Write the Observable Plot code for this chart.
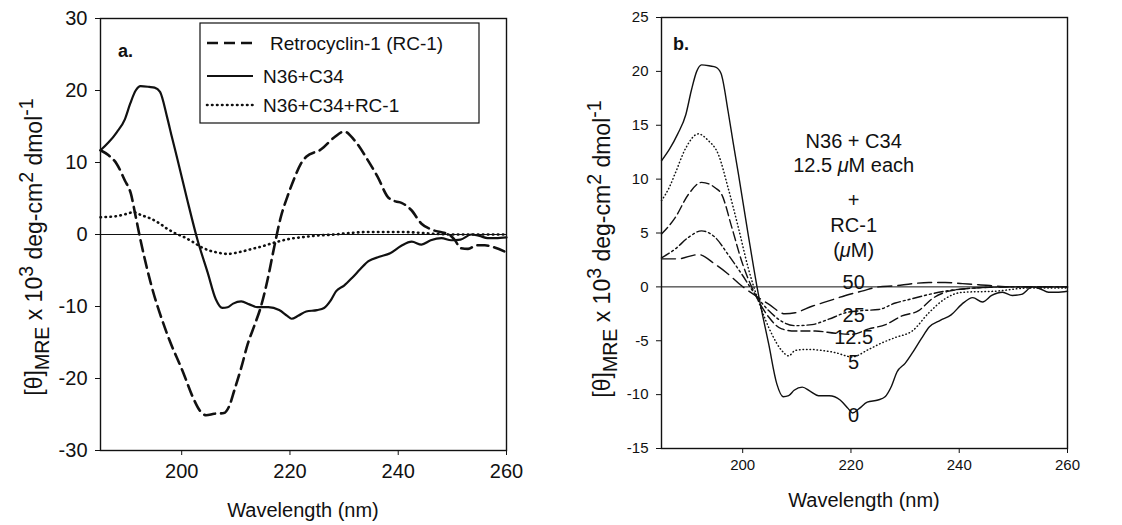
<!DOCTYPE html>
<html><head><meta charset="utf-8">
<script src="https://cdn.jsdelivr.net/npm/d3@7"></script>
<script src="https://cdn.jsdelivr.net/npm/@observablehq/plot@0.6"></script>
<style>
body{margin:0;background:#fff;}
#wrap{position:relative;width:1122px;height:525px;background:#fff;}
#wrap svg{position:absolute;top:0;}
</style></head><body><div id="wrap"></div>
<script>
// ---------- DATA ----------
const xTicks = [200, 220, 240, 260];
const yTicksA = [-30, -20, -10, 0, 10, 20, 30];
const yTicksB = [-15, -10, -5, 0, 5, 10, 15, 20, 25];

// N36+C34 (no RC-1) — solid
const wlN36 = [185,186.5,188,189.5,190.5,191.5,192.4,194,195,196,197.3,198.2,199.2,201,202.9,204.8,206.3,207.5,208.5,209.5,211,212.5,214,216,218,219.5,220.3,221.5,223,225,226.3,227.5,228.5,230,231.5,233,234.5,236.5,238.5,240.5,242.5,244.3,246,248,249.8,251.5,253.5,255,256.5,258,260];
const valN36 = [11.7,12.8,14.2,16.0,18.2,20.0,20.6,20.5,20.4,19.8,16.3,13.5,10.5,4.9,-0.7,-5.3,-9.0,-10.2,-10.1,-9.6,-9.3,-9.7,-10.1,-10.1,-10.5,-11.3,-11.7,-11.3,-10.7,-10.5,-10.2,-9.2,-7.9,-7.1,-6.0,-4.8,-3.7,-3.1,-2.6,-1.6,-1.0,-1.4,-0.8,-0.5,-0.8,-0.7,0.0,-0.2,-0.5,-0.5,-0.4];

// Retrocyclin-1 (RC-1) — dashed
const wlRC1 = [185,186.5,188,189.5,190.6,191.5,192.4,194.3,197.3,200.4,202,203.5,204.5,206,207.8,208.8,209.7,211,212.2,213.5,214.6,215.8,217.1,218.3,219.5,220.8,222,223,225.7,228.2,230,231.9,234.4,236.2,238.1,239.5,240.6,242.4,244.3,246.1,248,249.2,250.5,251.5,252.9,254.5,256,257.8,260];
const valRC1 = [11.7,11.0,9.8,7.5,5.7,2.5,-0.8,-6.8,-13.8,-19.4,-22.5,-24.6,-25.1,-24.9,-24.8,-23.8,-21.7,-18.5,-15.2,-12.5,-10.1,-6.5,-1.7,2.4,5.2,7.8,9.8,10.8,11.8,13.5,14.3,13.1,10.3,8.0,5.2,4.6,4.4,3.4,1.5,0.7,0.3,0.1,-0.8,-1.9,-2.0,-1.5,-1.5,-1.8,-2.5];

// N36+C34+RC-1 — dotted
const wlMix = [185,187.5,189.5,191.2,192.5,194.3,196,197.3,199,200.4,202,203.5,205,206.6,208.5,210.9,213,214.6,217.7,220,222,225,228.2,231,234.4,240.6,246.7,250,255,260];
const valMix = [2.4,2.5,2.8,3.1,2.7,2.2,1.5,0.8,0.1,-0.35,-1.0,-1.7,-2.2,-2.5,-2.7,-2.4,-2.0,-1.7,-1.0,-0.6,-0.4,-0.15,0.0,0.2,0.35,0.35,0.1,0.0,0.0,0.0];

// Panel b titration: RC-1 5 µM (dotted)
const wlB5 = [185,186.5,187.5,189.5,191.8,193.6,195.5,197.3,199.2,201,202.9,205.4,207.2,208.5,209.7,212.2,214.6,217.1,220.2,223.3,225.7,228.2,231.3,234.4,237.4,240.6,246.7,252.9,260];
const valB5 = [8.0,9.3,10.5,12.9,14.2,13.6,12.3,9.2,5.5,1.8,-1.3,-4.4,-5.9,-6.4,-5.9,-5.8,-5.9,-6.1,-6.5,-5.8,-5.2,-4.7,-4.1,-2.4,-1.1,-0.5,-0.4,-0.1,-0.1];

// RC-1 12.5 µM (dashed)
const wlB12 = [185,187.5,190,192.4,194.9,196.1,198,199.8,202.3,204.8,207.2,209.7,213.4,217.1,220.2,223.3,226.4,229.4,232.5,235,238.1,243,250,260];
const valB12 = [4.9,6.4,8.6,9.7,9.2,8.6,5.5,2.4,-0.7,-2.8,-3.9,-4.1,-4.1,-4.3,-4.4,-3.9,-3.5,-2.7,-2.2,-1.1,-0.4,-0.1,0.0,0.0];

// RC-1 25 µM (dash-dot-dot)
const wlB25 = [185,187.5,190,192.4,194.9,197.3,199.8,202.3,204.8,207.2,209.7,212.8,215.9,219,222,225.1,228.2,231.3,234.4,237.4,243,250,260];
const valB25 = [2.7,3.5,4.6,5.2,4.6,3.0,1.2,-0.7,-2.2,-3.2,-3.6,-3.5,-3.0,-2.4,-2.2,-2.1,-1.5,-1.1,-0.7,-0.4,-0.1,0.0,0.0];

// RC-1 50 µM (long dash)
const wlB50 = [185,188,191.8,194.9,197.3,199.8,202.3,204.8,207.8,209.7,212.8,215.9,219,222,225.1,228.2,231.3,234.4,237.4,240.6,243.6,250,260];
const valB50 = [2.6,2.6,3.0,2.1,1.2,0.1,-0.8,-1.6,-2.5,-2.4,-1.8,-1.3,-0.8,-0.4,0.0,0.1,0.3,0.4,0.4,0.3,0.2,0.0,0.0];

// Panel b annotations
const noteText = ["N36 + C34", "12.5 μM each", "+", "RC-1", "(μM)"];
const noteY = [13.5, 11.3, 8.0, 5.7, 3.4];
const concText = ["50", "25", "12.5", "5", "0"];
const concY = [0.4, -2.7, -4.7, -7.0, -11.9];
const labelX = 220.5;

// ---------- BUILD ----------
const rows = (w, v) => w.map((d, i) => ({wl: d, v: v[i]}));
const FONT = "'Liberation Sans', Arial, Helvetica, sans-serif";
const fmt = d => `${d}`;
const wrap = document.getElementById("wrap");

const plotA = Plot.plot({
  width: 561, height: 525,
  marginLeft: 100, marginRight: 55, marginTop: 18, marginBottom: 75,
  style: {fontFamily: FONT, fontSize: "20px", color: "#111", background: "transparent", overflow: "visible"},
  x: {domain: [185, 260]},
  y: {domain: [-30, 30]},
  marks: [
    Plot.ruleY([0], {stroke: "#111", strokeWidth: 1}),
    Plot.line(rows(wlRC1, valRC1), {x: "wl", y: "v", stroke: "#111", strokeWidth: 2.6, strokeDasharray: "11,6", curve: "monotone-x"}),
    Plot.line(rows(wlN36, valN36), {x: "wl", y: "v", stroke: "#111", strokeWidth: 2.2, curve: "monotone-x"}),
    Plot.line(rows(wlMix, valMix), {x: "wl", y: "v", stroke: "#111", strokeWidth: 2.6, strokeDasharray: "0.5,4.5", strokeLinecap: "round", curve: "monotone-x"}),
    Plot.frame({stroke: "#111", strokeWidth: 1.4}),
    Plot.axisX({ticks: xTicks, tickSize: 5, tickPadding: 8, tickFormat: fmt, label: null, fontSize: 20}),
    Plot.axisY({ticks: yTicksA, tickSize: 5, tickPadding: 8, tickFormat: fmt, label: null, fontSize: 20})
  ]
});

const plotB = Plot.plot({
  width: 561, height: 525,
  marginLeft: 100, marginRight: 55, marginTop: 17, marginBottom: 77,
  style: {fontFamily: FONT, fontSize: "15px", color: "#111", background: "transparent", overflow: "visible"},
  x: {domain: [185, 260]},
  y: {domain: [-15, 25]},
  marks: [
    Plot.ruleY([0], {stroke: "#111", strokeWidth: 1}),
    Plot.line(rows(wlN36, valN36), {x: "wl", y: "v", stroke: "#111", strokeWidth: 1.4, curve: "monotone-x"}),
    Plot.line(rows(wlB5, valB5), {x: "wl", y: "v", stroke: "#111", strokeWidth: 1.5, strokeDasharray: "0.5,3", strokeLinecap: "round", curve: "monotone-x"}),
    Plot.line(rows(wlB12, valB12), {x: "wl", y: "v", stroke: "#111", strokeWidth: 1.4, strokeDasharray: "9,4", curve: "monotone-x"}),
    Plot.line(rows(wlB25, valB25), {x: "wl", y: "v", stroke: "#111", strokeWidth: 1.4, strokeDasharray: "9,3,2,3,2,3", curve: "monotone-x"}),
    Plot.line(rows(wlB50, valB50), {x: "wl", y: "v", stroke: "#111", strokeWidth: 1.4, strokeDasharray: "14,6", curve: "monotone-x"}),
    Plot.text(noteText, {x: () => labelX, y: (d, i) => noteY[i], text: d => d, fontSize: 20, fill: "#111"}),
    Plot.text(concText, {x: () => labelX, y: (d, i) => concY[i], text: d => d, fontSize: 20, fill: "#111"}),
    Plot.frame({stroke: "#111", strokeWidth: 1.4}),
    Plot.axisX({ticks: xTicks, tickSize: 5, tickPadding: 6, tickFormat: fmt, label: null, fontSize: 15}),
    Plot.axisY({ticks: yTicksB, tickSize: 5, tickPadding: 8, tickFormat: fmt, label: null, fontSize: 15})
  ]
});
plotA.style.left = "0px";
plotB.style.left = "561px";
wrap.appendChild(plotA);
wrap.appendChild(plotB);

// ---------- TEXT DECORATIONS ----------
function yLabel(svg, x, y, size) {
  const t = svg.append("text")
    .attr("transform", `translate(${x},${y}) rotate(-90)`)
    .attr("text-anchor", "middle")
    .attr("font-family", FONT).attr("font-size", size).attr("fill", "#111");
  const s = size * 0.85;
  t.append("tspan").text("[θ]");
  t.append("tspan").attr("font-size", s).attr("dy", size * 0.3).text("MRE");
  t.append("tspan").attr("dy", -size * 0.3).text(" x 10");
  t.append("tspan").attr("font-size", s).attr("dy", -size * 0.4).text("3");
  t.append("tspan").attr("dy", size * 0.4).text(" deg-cm");
  t.append("tspan").attr("font-size", s).attr("dy", -size * 0.4).text("2");
  t.append("tspan").attr("dy", size * 0.4).text(" dmol");
  t.append("tspan").attr("font-size", s).attr("dy", -size * 0.4).text("-1");
}
const sA = d3.select(plotA), sB = d3.select(plotB);
yLabel(sA, 42, 247, 23);
yLabel(sB, 49, 249, 23);

sA.append("text").attr("x", 303).attr("y", 517).attr("text-anchor", "middle")
  .attr("font-family", FONT).attr("font-size", 20).attr("fill", "#111").text("Wavelength (nm)");
sB.append("text").attr("x", 303).attr("y", 507).attr("text-anchor", "middle")
  .attr("font-family", FONT).attr("font-size", 20).attr("fill", "#111").text("Wavelength (nm)");

sA.append("text").attr("x", 118).attr("y", 57).attr("text-anchor", "start").attr("font-family", FONT).attr("font-weight", "bold")
  .attr("font-size", 18).attr("fill", "#111").text("a.");
sB.append("text").attr("x", 112).attr("y", 50).attr("text-anchor", "start").attr("font-family", FONT).attr("font-weight", "bold")
  .attr("font-size", 18).attr("fill", "#111").text("b.");

// italic μ in the panel b notes
sB.selectAll("text").each(function() {
  const el = d3.select(this);
  const txt = el.text();
  if (txt.includes("μ") && el.selectAll("tspan").empty()) {
    const parts = txt.split("μ");
    el.text(null);
    el.append("tspan").text(parts[0]);
    el.append("tspan").attr("font-style", "italic").text("μ");
    el.append("tspan").text(parts[1]);
  }
});

// legend (panel a)
const leg = sA.append("g").attr("font-family", FONT).attr("font-size", 19).attr("fill", "#111").attr("text-anchor", "start");
leg.append("rect").attr("x", 200).attr("y", 23).attr("width", 279).attr("height", 100)
  .attr("fill", "#fff").attr("stroke", "#111").attr("stroke-width", 1.2);
const legItems = [
  {label: "Retrocyclin-1 (RC-1)", dash: "11,6", w: 2.6, y: 43, tx: 270, cap: "butt"},
  {label: "N36+C34", dash: null, w: 2.2, y: 76, tx: 263, cap: "butt"},
  {label: "N36+C34+RC-1", dash: "0.5,4.5", w: 2.6, y: 105, tx: 263, cap: "round"}
];
legItems.forEach(it => {
  const l = leg.append("line").attr("x1", 207).attr("x2", 253).attr("y1", it.y).attr("y2", it.y)
    .attr("stroke", "#111").attr("stroke-width", it.w).attr("stroke-linecap", it.cap);
  if (it.dash) l.attr("stroke-dasharray", it.dash);
  leg.append("text").attr("x", it.tx).attr("y", it.y).attr("dy", "0.35em").text(it.label);
});
</script></body></html>
